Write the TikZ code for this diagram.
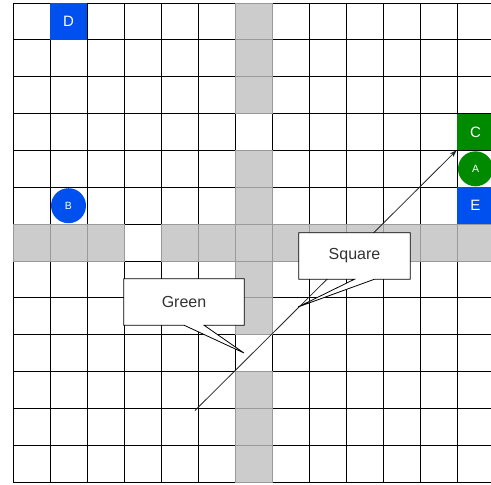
\documentclass[tikz,border=0pt]{standalone}
\usepackage{fontspec}
\setmainfont{Liberation Sans}
\usetikzlibrary{arrows.meta}
\definecolor{cellgray}{HTML}{CCCCCC}
\definecolor{linegray}{HTML}{9A9A9A}
\definecolor{dblue}{HTML}{0050EF}
\definecolor{dgreen}{HTML}{008A00}
\definecolor{txt}{HTML}{333333}
\begin{document}
\begin{tikzpicture}[x=1pt,y=-1pt,
 cellbox/.style={draw=black,line width=0.8pt},
 graycell/.style={fill=cellgray,draw=linegray,line width=0.8pt},
 tile/.style={fill=#1,draw=none,minimum width=37pt,minimum height=36.85pt,inner sep=0pt,text=white,font=\fontsize{15}{15}\selectfont},
 disc/.style={circle,fill=#1,draw=none,minimum size=35pt,inner sep=0pt,text=white,font=\fontsize{10.5}{10.5}\selectfont},
 boxshape/.style={draw=none,inner sep=0pt},
 calltext/.style={text=txt,font=\fontsize{16}{16}\selectfont},
 callout/.style={draw=black,fill=white,line width=0.8pt},
 link/.style={draw=black!85,line width=0.8pt,-{Stealth[length=7pt,width=5pt]}}
]
\useasboundingbox (0,0) rectangle (491,485);
\clip (0,0) rectangle (491,485);
\fill[white] (0,0) rectangle (491,485);
\foreach \c in {0,...,12}
 \foreach \r in {0,...,12}
  \draw[cellbox] ({13+37*\c},{3+36.85*\r}) rectangle ++(37,36.85);
\foreach \r in {0,1,2,4,5,6,7,8,10,11,12}
  \draw[graycell] (235,{3+36.85*\r}) rectangle ++(37,36.85);
\foreach \c in {0,1,2,4,5,6,7,8,9,10,11,12}
  \draw[graycell] ({13+37*\c},224.1) rectangle ++(37,36.85);
% coloured tiles
\node[tile=dblue] (D) at (68.5,21.4) {D};
\node[tile=dgreen] (C) at (475.5,131.97) {C};
\node[disc=dgreen] (A) at (475.5,168.8) {A};
\node[tile=dblue] (E) at (475.5,205.7) {E};
\node[disc=dblue] (B) at (68.5,205.7) {B};
% arrow
\coordinate (start) at (195,410.5);
\coordinate (tipA) at (456.5,150.4);
\draw[link] (start) -- (tipA);
% Green callout
\node[boxshape, minimum width=120pt, minimum height=46pt] (gbox) at (184,302) {};
\coordinate (gtip) at (244,353);
\draw[callout] (gbox.north west) -- (gbox.north east) -- (gbox.south east) -- ([xshift=20pt]gbox.south) -- (gtip) -- (gbox.south) -- (gbox.south west) -- cycle;
\node[calltext] (green) at (gbox) {Green};
% Square callout
\node[boxshape, minimum width=111pt, minimum height=46pt] (sbox) at (354.5,256) {};
\coordinate (stip) at (298,307);
\draw[callout] (sbox.north west) -- (sbox.north east) -- (sbox.south east) -- ([xshift=20pt]sbox.south) -- (stip) -- (sbox.south) -- (sbox.south west) -- cycle;
\node[calltext] (square) at (sbox) {Square};
\end{tikzpicture}
\end{document}
